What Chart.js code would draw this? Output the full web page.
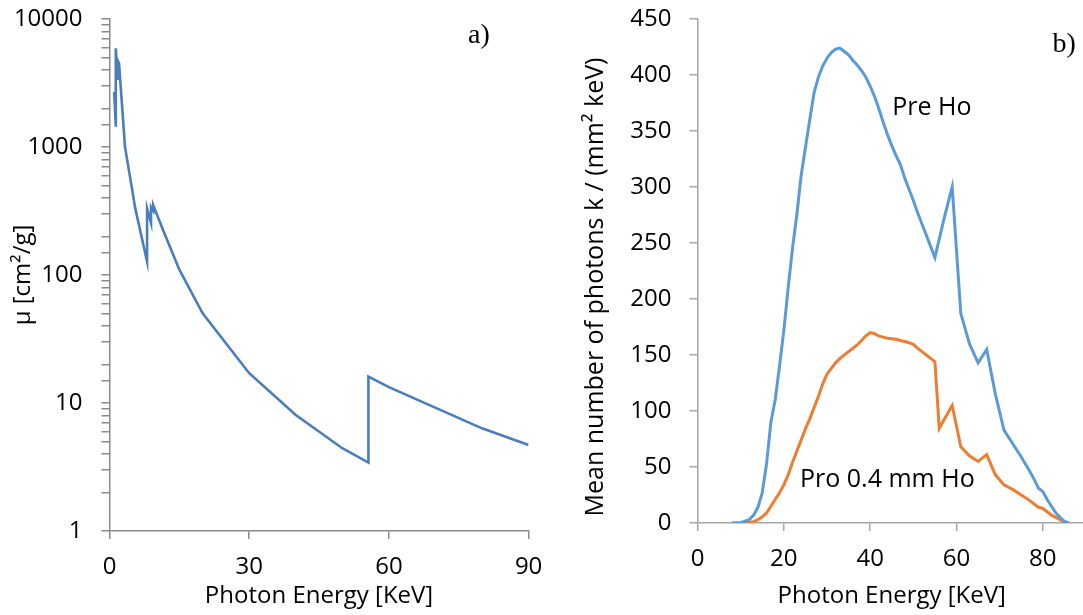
<!DOCTYPE html>
<html>
<head>
<meta charset="utf-8">
<script src="https://cdn.jsdelivr.net/npm/chart.js@4.4.1/dist/chart.umd.min.js"></script>
<style>
  html, body { margin: 0; padding: 0; background: #fff; overflow: hidden; }
  body { width: 1083px; height: 615px; position: relative; }
  canvas { position: absolute; top: 0; }
  #chart-a { left: 0; }
  #chart-b { left: 540px; }
</style>
</head>
<body>
<canvas id="chart-a" width="560" height="615"></canvas>
<canvas id="chart-b" width="548" height="615"></canvas>
<script>
// a) attenuation coefficient vs photon energy
const muEnergy = [1, 1.35, 1.35, 1.8, 1.8, 2.05, 3.33, 4.76, 5.48, 8.07, 8.07, 8.92, 8.92, 9.39, 9.39, 11.5, 15, 20, 30, 40, 50, 55.6, 55.6, 60, 80, 90];
const muValue = [2700, 1440, 5900, 3340, 4700, 4500, 1000, 490, 339, 127, 332, 256, 340, 318, 352, 225, 110, 50.2, 17.1, 8.06, 4.43, 3.42, 16.1, 13.3, 6.34, 4.7];
const muTickLabels = [1, 10, 100, 1000, 10000];

// b) spectra before / after 0.4 mm Ho
const preHoEnergy = [8, 10, 12, 13, 14, 15, 16, 17, 18, 19, 20, 21, 22, 23, 24, 25, 26, 27, 28, 29, 30, 31, 32, 33, 34, 35, 36, 37, 38, 39, 40, 41, 42, 43, 44, 45, 46, 47, 48, 49, 50, 51, 52, 53, 54, 55, 57, 59, 61, 63, 65, 67, 69, 71, 73, 75, 77, 78, 79, 80, 81, 82, 83, 84, 85, 86];
const preHoCounts = [0, 0.3, 3, 7, 14, 27, 53, 90, 110, 140, 172, 210, 245, 275, 310, 335, 360, 384, 398, 408, 415, 420, 423, 424, 421, 418, 413, 409, 404, 398, 390, 381, 370, 358, 347, 337, 328, 320, 308, 298, 288, 277, 267, 257, 247, 237, 270, 300, 187, 160, 143, 155, 115, 83, 71, 59, 46, 39, 31, 28, 21, 15, 9, 5, 1.5, 0];
const proHoEnergy = [8, 10, 12, 13, 14, 15, 16, 17, 18, 19, 20, 21, 22, 23, 24, 25, 26, 27, 28, 29, 30, 31, 32, 33, 34, 35, 36, 37, 38, 39, 40, 41, 42, 43, 44, 45, 46, 47, 48, 49, 50, 51, 52, 53, 54, 55, 56, 59, 61, 63, 65, 67, 69, 71, 73, 75, 77, 78, 79, 80, 81, 82, 83, 84, 85, 86];
const proHoCounts = [0, 0, 0.5, 1.2, 3, 5.5, 9, 15, 21, 27, 34, 43, 54, 64, 74, 84, 93, 103, 113, 124, 133, 138, 143, 147, 150, 153, 156, 159, 163, 167, 170, 169, 167, 166, 165, 164.5, 164, 163, 162, 161, 159.5, 156, 153, 150, 147, 144, 84.5, 105, 68, 60, 55, 61, 43, 34, 30, 25, 20, 17, 14, 13, 10, 7, 5, 3, 1, 0];
const countTicks = [0, 50, 100, 150, 200, 250, 300, 350, 400, 450];

const FONT = "'Open Sans', 'Noto Sans', sans-serif";
Chart.defaults.font.family = FONT;
Chart.defaults.font.size = 24;
Chart.defaults.color = "#000";

function toPoints(xs, ys) {
  return xs.map((x, i) => ({ x: x, y: ys[i] }));
}

// free text drawn on the canvas (panel letters, curve names)
const textMarks = {
  id: "textMarks",
  afterDraw(chart, args, opts) {
    const ctx = chart.ctx;
    ctx.save();
    ctx.fillStyle = "#000";
    ctx.textAlign = "left";
    ctx.textBaseline = "alphabetic";
    (opts.items || []).forEach(item => {
      let x = item.x;
      let y = item.y;
      if (item.inData) {
        x = chart.scales.x.getPixelForValue(item.x);
        y = chart.scales.y.getPixelForValue(item.y);
      }
      ctx.font = item.font;
      ctx.fillText(item.text, x, y);
    });
    ctx.restore();
  }
};

function axisStyle(color) {
  return {
    grid: { drawOnChartArea: false, drawTicks: true, tickLength: 8, color: color, tickColor: color, lineWidth: 1.5 },
    border: { display: true, color: color, width: 1.5 }
  };
}

// fixed y axis width; the tick label padding must not push the plot down
function fixYAxis(width) {
  return s => {
    s.width = width;
    s.paddingTop = 0;
    s.paddingBottom = 0;
  };
}

const leftAxis = axisStyle("#8a8a8a");
new Chart(document.getElementById("chart-a"), {
  type: "line",
  data: {
    datasets: [{
      data: toPoints(muEnergy, muValue),
      borderColor: "#4A7EBB",
      borderWidth: 2.6,
      pointRadius: 0,
      tension: 0,
      fill: false
    }]
  },
  options: {
    responsive: false,
    animation: false,
    devicePixelRatio: 1,
    layout: { padding: { left: 0, right: 31.4, top: 19, bottom: 0 } },
    plugins: {
      legend: { display: false },
      tooltip: { enabled: false },
      textMarks: {
        items: [
          { text: "a)", x: 468, y: 43, font: "28px 'Liberation Serif', 'Times New Roman', serif" }
        ]
      }
    },
    scales: {
      x: {
        type: "linear",
        min: 0,
        max: 90,
        ticks: { stepSize: 30, padding: 14, maxRotation: 0 },
        grid: leftAxis.grid,
        border: leftAxis.border,
        title: { display: true, text: "Photon Energy [KeV]", padding: { top: 0, bottom: 4.6 } },
        afterFit: s => { s.height = 84; }
      },
      y: {
        type: "logarithmic",
        min: 1,
        max: 10000,
        ticks: {
          autoSkip: false,
          padding: 19,
          callback: v => muTickLabels.includes(v) ? String(v) : ""
        },
        grid: leftAxis.grid,
        border: leftAxis.border,
        title: { display: true, text: "μ [cm²/g]", padding: { top: 8.6, bottom: 0 } },
        afterFit: fixYAxis(109.5)
      }
    }
  },
  plugins: [textMarks]
});

const rightAxis = axisStyle("#a6a6a6");
new Chart(document.getElementById("chart-b"), {
  type: "line",
  data: {
    datasets: [
      {
        label: "Pre Ho",
        data: toPoints(preHoEnergy, preHoCounts),
        borderColor: "#5B9BD5",
        borderWidth: 3,
        pointRadius: 0,
        tension: 0,
        fill: false
      },
      {
        label: "Pro 0.4 mm Ho",
        data: toPoints(proHoEnergy, proHoCounts),
        borderColor: "#ED7D31",
        borderWidth: 3,
        pointRadius: 0,
        tension: 0,
        fill: false
      }
    ]
  },
  options: {
    responsive: false,
    animation: false,
    devicePixelRatio: 1,
    layout: { padding: { left: 0, right: 2, top: 19, bottom: 0 } },
    plugins: {
      legend: { display: false },
      tooltip: { enabled: false },
      textMarks: {
        items: [
          { text: "b)", x: 512.5, y: 52, font: "28px 'Liberation Serif', 'Times New Roman', serif" },
          { text: "Pre Ho", x: 45.1, y: 364, inData: true, font: "25px " + FONT },
          { text: "Pro 0.4 mm Ho", x: 23.75, y: 32.4, inData: true, font: "25px " + FONT }
        ]
      }
    },
    scales: {
      x: {
        type: "linear",
        min: 0,
        max: 90,
        ticks: { stepSize: 20, padding: 14, maxRotation: 0 },
        afterBuildTicks: s => { s.ticks = s.ticks.filter(t => t.value % 20 === 0); },
        grid: rightAxis.grid,
        border: rightAxis.border,
        title: { display: true, text: "Photon Energy [KeV]", padding: { top: 0, bottom: 4 } },
        afterFit: s => { s.height = 92; }
      },
      y: {
        type: "linear",
        min: countTicks[0],
        max: countTicks[countTicks.length - 1],
        ticks: { stepSize: countTicks[1] - countTicks[0], padding: 18 },
        grid: rightAxis.grid,
        border: rightAxis.border,
        title: {
          display: true,
          align: "start",
          text: " Mean number of photons k / (mm² keV)",
          font: { size: 25 },
          padding: { top: 40.6, bottom: 0 }
        },
        afterFit: fixYAxis(157.5)
      }
    }
  },
  plugins: [textMarks]
});
</script>
</body>
</html>
